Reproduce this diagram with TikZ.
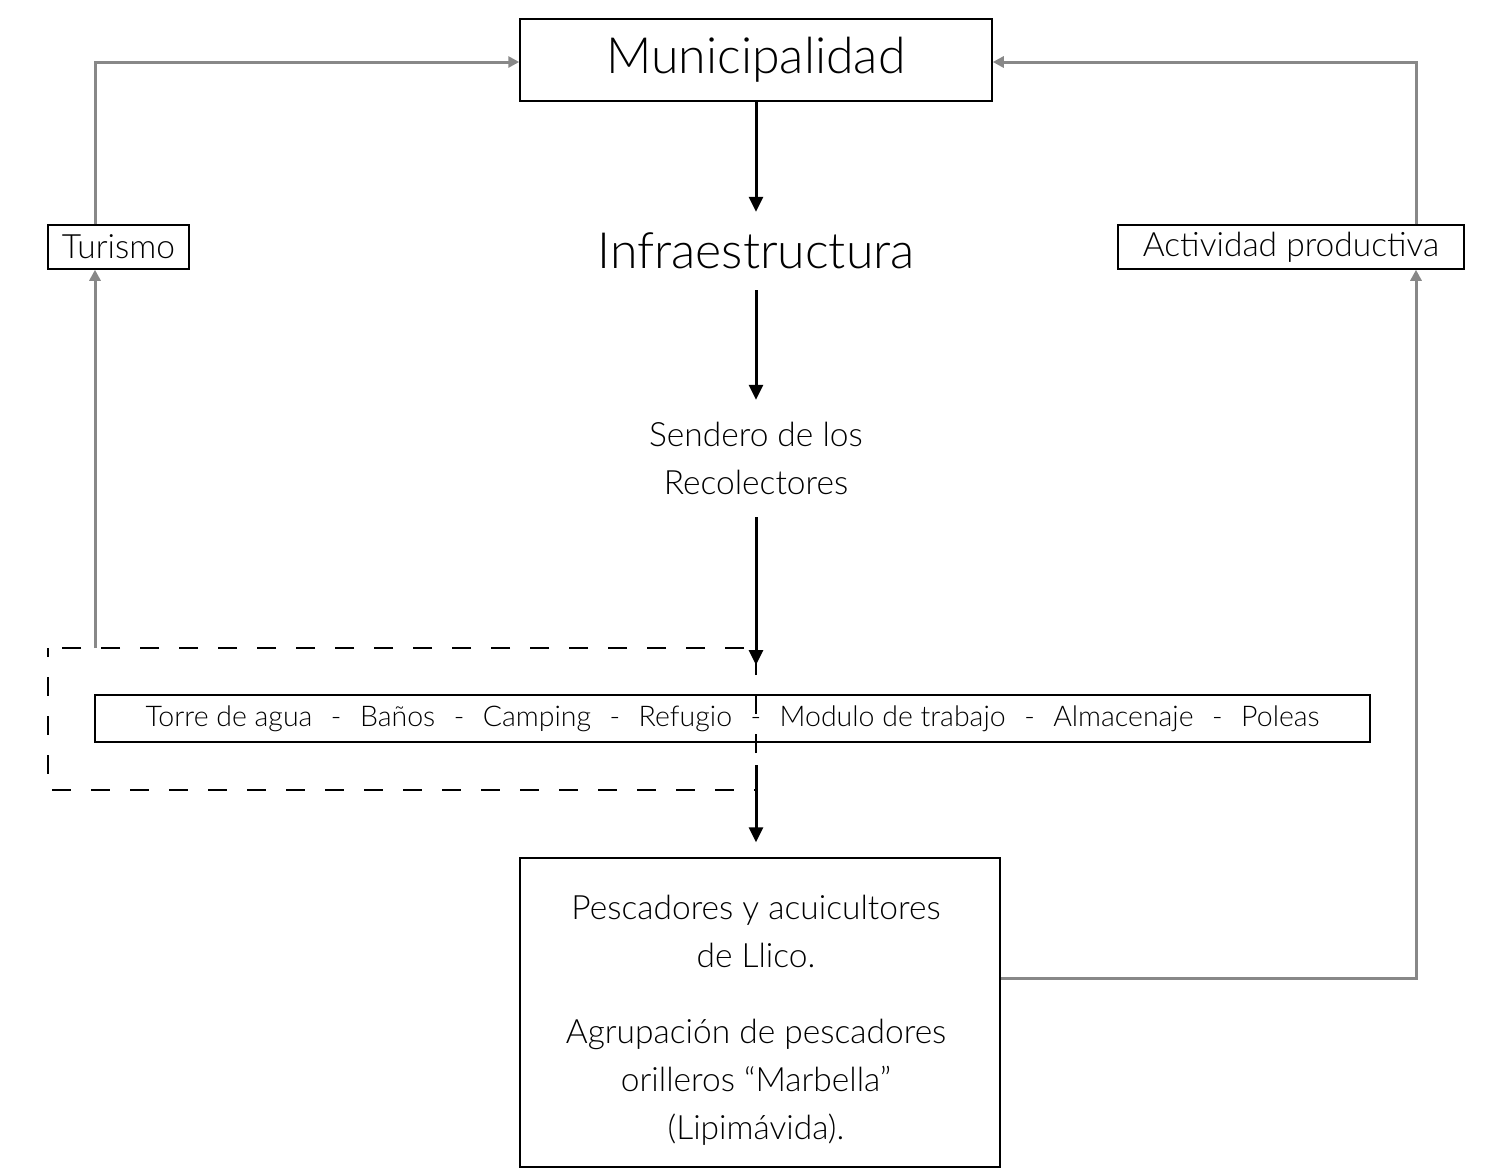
\documentclass[tikz,border=0pt]{standalone}
\usepackage{fontspec}
\setmainfont{Lato Light}
\usetikzlibrary{arrows.meta}
\definecolor{lineGray}{RGB}{136,136,136}
\newcommand\sepdash{\hspace{18.5pt}-\hspace{18.5pt}}

\begin{document}
\begin{tikzpicture}[x=1pt,y=-1pt,
    every node/.style={font=\fontsize{33.5}{48}\selectfont},
    big/.style={font=\fontsize{50}{60}\selectfont},
    box/.style={draw,line width=1.5pt,inner sep=0pt},
    flow/.style={line width=3pt,-{Triangle[length=15pt,width=14pt]}},
    back/.style={draw=lineGray,line width=3pt,-{Triangle[length=11pt,width=11pt]}},
    zone/.style={line width=1.5pt,dash pattern=on 19pt off 20pt,dash phase=10pt}
  ]
  \useasboundingbox (0,0) rectangle (1492,1170);

  % main chain
  \node[box,big,minimum width=472pt,minimum height=82pt] (muni) at (756,60) {Municipalidad};
  \node[big,inner sep=0pt,minimum height=78pt] (infra) at (756,251) {Infraestructura};
  \node[align=center,inner sep=0pt,minimum height=117pt] (sendero) at (756,458.5) {Sendero de los\\Recolectores};
  \node[box,minimum width=1275pt,minimum height=47pt,font=\fontsize{28.5}{40}\selectfont] (items) at (732.5,718.5)
    {Torre de agua\sepdash Baños\sepdash Camping\sepdash Refugio\sepdash Modulo de trabajo\sepdash Almacenaje\sepdash Poleas};
  \node[box,minimum width=480pt,minimum height=309pt] (pesca) at (760,1012.5) {};
  \node[align=center,inner sep=0pt] (pescaText) at (756,1020)
    {Pescadores y acuicultores\\de Llico.\\[28pt]Agrupación de pescadores\\orilleros “Marbella”\\(Lipimávida).};

  % side boxes
  \node[box,minimum width=141pt,minimum height=44pt] (turismo) at (118.5,247) {Turismo};
  \node[box,minimum width=346pt,minimum height=44pt] (activ) at (1291,247) {Actividad productiva};

  % dashed zone
  \coordinate (zoneA) at (48,648);
  \coordinate (zoneB) at (756,790);
  \draw[zone] (zoneA) rectangle (zoneB);

  \coordinate (hit) at (756,665);
  \coordinate (leave) at (756,765);
  \draw[flow] (muni) -- (infra);
  \draw[flow] (infra) -- (sendero);
  \draw[flow] (sendero) -- (hit);
  \draw[flow,shorten >=15pt] (leave) -- (leave |- pesca.north);

  % feedback
  \coordinate (topL) at (95,62);
  \coordinate (topR) at (1416,62);
  \coordinate (turnR) at (1416,978);
  \draw[back] (topL |- zoneA) -- (turismo.south -| topL);
  \draw[back] (turismo.north -| topL) -- (topL) -- (muni.west |- topL);
  \draw[back] (pesca.east |- turnR) -- (turnR) -- (activ.south -| turnR);
  \draw[back] (activ.north -| topR) -- (topR) -- (muni.east |- topR);
\end{tikzpicture}
\end{document}
